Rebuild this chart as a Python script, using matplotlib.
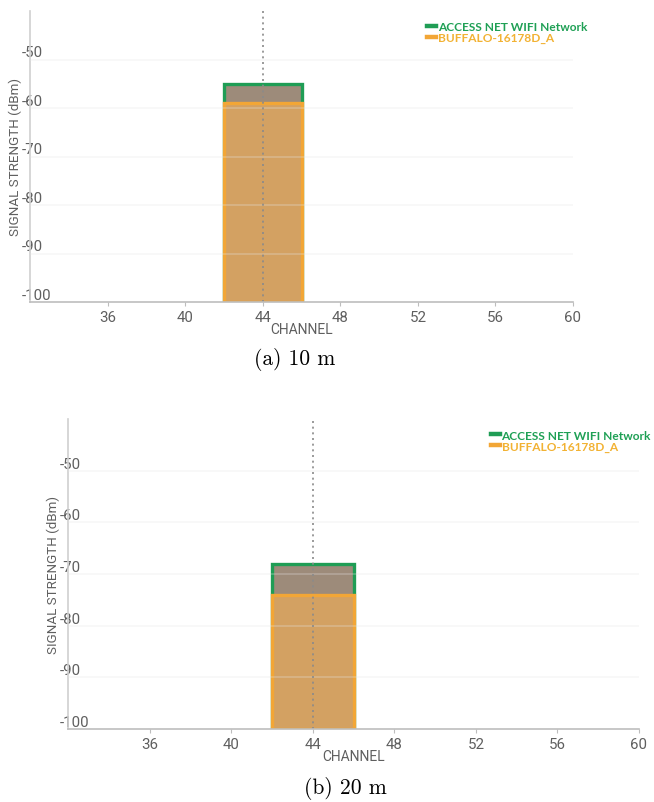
import matplotlib.pyplot as plt
from matplotlib.lines import Line2D

# redes detectadas y su canal central / ancho (en canales)
networks = ["ACCESS NET WIFI Network", "BUFFALO-16178D_A"]
channel_center = [44, 44]
channel_width = [4, 4]

# intensidad de señal (dBm) a cada distancia
signal_10m = [-55, -59]
signal_20m = [-68, -74]

xticks = [36, 40, 44, 48, 52, 56, 60]
yticks = [-50, -60, -70, -80, -90, -100]
captions = ["(a) 10 m", "(b) 20 m"]

edge_colors = ["#1f9d55", "#f2a636"]
fill_colors = ["#9d8b7a", "#d3a162"]
text_colors = ["#1fa055", "#f2b233"]

FLOOR = -100
TICK_COL = "#5f5f5f"


def graficar(ax, signals, legend_anchor):
    for i in range(len(networks)):
        ax.bar(channel_center[i], signals[i] - FLOOR, bottom=FLOOR,
               width=channel_width[i], color=fill_colors[i],
               edgecolor=edge_colors[i], linewidth=2.4, zorder=2 + i)

    ax.set_xlim(32, 60)
    ax.set_ylim(-100, -40)

    # rejilla horizontal por encima de las barras
    for y in yticks[:-1]:
        ax.axhline(y, color="#e6e6e6", alpha=0.3, linewidth=1.2, zorder=5)
    ax.axvline(44, color="#8a8a8a", linestyle=(0, (1.2, 2.2)), linewidth=1.2, zorder=6)

    for s in ["top", "right"]:
        ax.spines[s].set_visible(False)
    ax.spines["left"].set_color("#cfcfcf")
    ax.spines["bottom"].set_color("#bdbdbd")
    ax.spines["left"].set_linewidth(1.2)
    ax.spines["bottom"].set_linewidth(1.2)
    ax.spines["bottom"].set_zorder(7)

    ax.set_xticks(xticks)
    ax.set_xticklabels([str(t) for t in xticks], family="Roboto", fontsize=10.8, color=TICK_COL)
    ax.tick_params(axis="x", length=3, color="#bdbdbd", pad=3)

    ax.set_yticks(yticks)
    ax.set_yticklabels([str(t) for t in yticks], family="Roboto", fontsize=10.8,
                       color=TICK_COL, ha="left", va="bottom")
    ax.tick_params(axis="y", length=0, pad=6)

    ax.set_xlabel("CHANNEL", family="Roboto", fontsize=10, color=TICK_COL, labelpad=-2)
    ax.set_ylabel("SIGNAL STRENGTH (dBm)", family="Roboto", fontsize=9.6, color=TICK_COL, labelpad=0)

    handles = [Line2D([0], [0], color=c, linewidth=3.2) for c in edge_colors]
    leg = ax.legend(handles, networks, loc="upper left", bbox_to_anchor=legend_anchor,
                    frameon=False, handlelength=0.75, handletextpad=0.15, labelspacing=0.0,
                    borderpad=0, prop={"family": "Lato", "weight": "bold", "size": 8.6})
    for t, c in zip(leg.get_texts(), text_colors):
        t.set_color(c)


fig = plt.figure(figsize=(6.54, 8.03), dpi=100)
ax1 = fig.add_axes([30 / 654, 1 - 303 / 803, 543 / 654, 291 / 803])
ax2 = fig.add_axes([68 / 654, 1 - 730 / 803, 571 / 654, 310 / 803])

graficar(ax1, signal_10m, (0.72, 0.985))
graficar(ax2, signal_20m, (0.73, 0.985))

fig.text(295 / 654, 1 - 360 / 803, captions[0], family="cmr10", fontsize=15.5,
         ha="center", va="center")
fig.text(345 / 654, 1 - 789 / 803, captions[1], family="cmr10", fontsize=15.5,
         ha="center", va="center")

fig.savefig("out.png", dpi=100)
